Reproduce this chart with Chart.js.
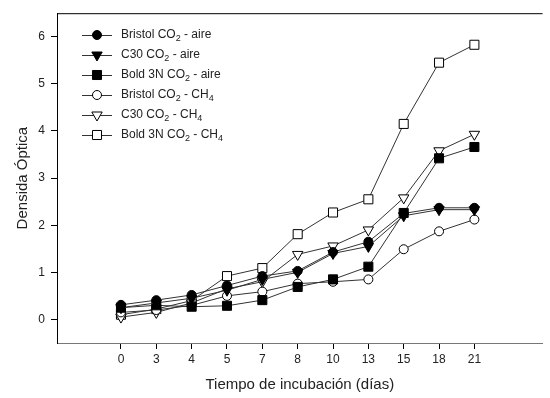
<!DOCTYPE html>
<html>
<head>
<meta charset="utf-8">
<script src="https://cdn.jsdelivr.net/npm/chart.js@4/dist/chart.umd.min.js"></script>
<style>
  html, body { margin: 0; padding: 0; background: #fff; }
  #wrap { width: 550px; height: 398px; }
</style>
</head>
<body>
<div id="wrap"><canvas id="myChart" width="550" height="398"></canvas></div>
<script>
var days = ['0', '3', '4', '5', '7', '8', '10', '13', '15', '18', '21'];
var yTicks = [0, 1, 2, 3, 4, 5, 6];

var bristolAire = [0.31, 0.41, 0.52, 0.72, 0.92, 1.03, 1.43, 1.65, 2.25, 2.37, 2.37];
var c30Aire     = [0.25, 0.35, 0.45, 0.62, 0.85, 1.00, 1.40, 1.55, 2.20, 2.33, 2.33];
var boldAire    = [0.25, 0.30, 0.27, 0.29, 0.41, 0.69, 0.85, 1.12, 2.26, 3.42, 3.66];
var bristolCH4  = [0.15, 0.20, 0.30, 0.50, 0.59, 0.76, 0.80, 0.85, 1.49, 1.87, 2.12];
var c30CH4      = [0.05, 0.15, 0.35, 0.65, 0.80, 1.38, 1.56, 1.90, 2.58, 3.58, 3.93];
var boldCH4     = [0.10, 0.22, 0.40, 0.92, 1.09, 1.81, 2.27, 2.55, 4.15, 5.45, 5.83];

// legend names: [before subscript, subscript, after] pieces
var names = [
    ['Bristol CO', '2', ' - aire', ''],
    ['C30 CO', '2', ' - aire', ''],
    ['Bold 3N CO', '2', ' - aire', ''],
    ['Bristol CO', '2', ' - CH', '4'],
    ['C30 CO', '2', ' - CH', '4'],
    ['Bold 3N CO', '2', ' - CH', '4']
];

function pts(values) {
    return values.map(function (v, i) { return {x: i, y: v}; });
}

function series(idx, values, style, filled) {
    var r = style === 'circle' ? 4.5 : (style === 'rect' ? 6.4 : 6);
    return {
        label: names[idx].join(''),
        data: pts(values),
        borderColor: '#333',
        borderWidth: 1,
        pointStyle: style === 'tri' ? 'triangle' : style,
        pointRotation: style === 'tri' ? 180 : 0,
        pointRadius: r,
        pointBackgroundColor: filled ? '#000' : '#fff',
        pointBorderColor: '#000',
        pointBorderWidth: 1,
        tension: 0
    };
}

var datasets = [
    series(0, bristolAire, 'circle', true),
    series(1, c30Aire, 'tri', true),
    series(2, boldAire, 'rect', true),
    series(3, bristolCH4, 'circle', false),
    series(4, c30CH4, 'tri', false),
    series(5, boldCH4, 'rect', false)
];

var frame = {
    id: 'frame',
    afterDraw: function (chart) {
        var c = chart.ctx, a = chart.chartArea;
        c.save();
        c.strokeStyle = '#000';
        c.lineWidth = 1;
        c.beginPath();
        c.moveTo(a.left, a.top + 0.5);
        c.lineTo(a.right, a.top + 0.5);
        c.stroke();

        // legend
        var y0 = 35, x0 = 82;
        chart.data.datasets.forEach(function (ds, i) {
            var y = y0 + i * 20;
            c.strokeStyle = '#333';
            c.beginPath();
            c.moveTo(x0, y + 0.5);
            c.lineTo(x0 + 30, y + 0.5);
            c.stroke();
            c.fillStyle = ds.pointBackgroundColor;
            c.strokeStyle = '#000';
            Chart.helpers.drawPoint(c, {
                pointStyle: ds.pointStyle,
                rotation: ds.pointRotation,
                radius: ds.pointRadius,
                borderWidth: 1
            }, x0 + 15, y);
            var n = names[i], x = 121;
            c.fillStyle = '#222';
            c.textBaseline = 'middle';
            c.textAlign = 'left';
            c.font = '12px "Liberation Sans", Arial, sans-serif';
            c.fillText(n[0], x, y);
            x += c.measureText(n[0]).width;
            c.font = '9px "Liberation Sans", Arial, sans-serif';
            c.fillText(n[1], x, y + 4);
            x += c.measureText(n[1]).width;
            c.font = '12px "Liberation Sans", Arial, sans-serif';
            c.fillText(n[2], x, y);
            x += c.measureText(n[2]).width;
            if (n[3]) {
                c.font = '9px "Liberation Sans", Arial, sans-serif';
                c.fillText(n[3], x, y + 4);
            }
        });
        c.restore();
    }
};

var ctx = document.getElementById('myChart');
var myChart = new Chart(ctx, {
    type: 'line',
    data: {datasets: datasets},
    plugins: [frame],
    options: {
        responsive: false,
        animation: false,
        layout: {padding: {left: 0, top: 7, right: 2, bottom: 0}},
        plugins: {legend: {display: false}, tooltip: {enabled: false}},
        scales: {
            x: {
                type: 'linear',
                min: -1.81,
                max: 11.93,
                afterBuildTicks: function (scale) {
                    scale.ticks = days.map(function (d, i) { return {value: i}; });
                },
                afterFit: function (scale) { scale.height = 55; },
                ticks: {
                    callback: function (v) { return days[v]; },
                    color: '#222',
                    font: {size: 12, family: '"Liberation Sans", Arial, sans-serif'},
                    padding: 3,
                    maxRotation: 0,
                    autoSkip: false
                },
                grid: {drawOnChartArea: false, drawTicks: true, tickLength: 6, color: '#000'},
                border: {display: true, color: '#777', width: 1},
                title: {
                    display: true,
                    text: 'Tiempo de incubación (días)',
                    color: '#222',
                    font: {size: 15, family: '"Liberation Sans", Arial, sans-serif'},
                    padding: {top: 0, bottom: 4}
                }
            },
            y: {
                type: 'linear',
                min: -0.5,
                max: 6.5,
                afterBuildTicks: function (scale) {
                    scale.ticks = yTicks.map(function (v) { return {value: v}; });
                },
                afterFit: function (scale) { scale.width = 57; },
                ticks: {
                    color: '#222',
                    font: {size: 12, family: '"Liberation Sans", Arial, sans-serif'},
                    padding: 6
                },
                grid: {drawOnChartArea: false, drawTicks: true, tickLength: 6, color: '#000'},
                border: {display: true, color: '#000', width: 1},
                title: {
                    display: true,
                    text: 'Densida Óptica',
                    color: '#222',
                    font: {size: 15, family: '"Liberation Sans", Arial, sans-serif'},
                    padding: {top: 14, bottom: 0}
                }
            }
        }
    }
});
</script>
</body>
</html>
